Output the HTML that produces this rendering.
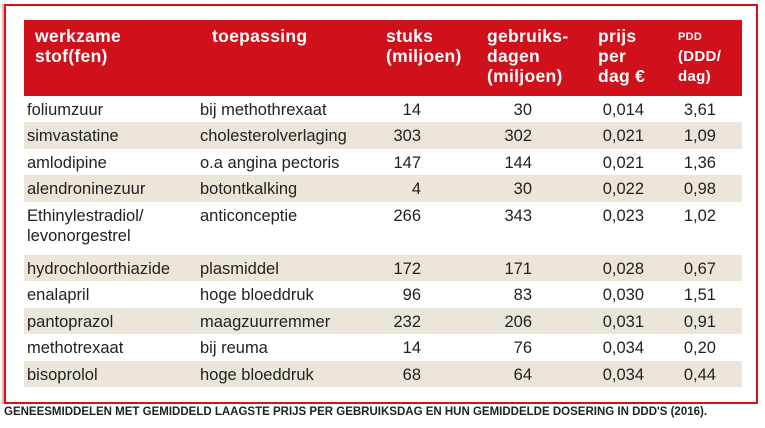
<!DOCTYPE html>
<html><head><meta charset="utf-8"><style>
body{margin:0;width:765px;height:428px;background:#fff;position:relative;overflow:hidden;font-family:"Liberation Sans",sans-serif;}
#frame{position:absolute;left:4px;top:4px;width:750px;height:396px;border:2px solid #d5121c;box-shadow:-2px 0 0 #f3b0b0;}
#head{position:absolute;left:24px;top:20px;width:718px;height:76px;background:#d0111b;color:#fff;font-weight:bold;font-size:17.5px;line-height:20px;}
#head div{position:absolute;top:6px;letter-spacing:0.3px;}
.row{position:absolute;left:24px;width:718px;height:26.4px;font-size:16.5px;color:#222;}
.row.b{background:#ece6da;}
.row span{position:absolute;top:4px;white-space:nowrap;}
.r{text-align:right;}
#cap{position:absolute;left:4px;top:406px;font-size:11.5px;font-weight:bold;color:#222;white-space:nowrap;}
</style></head><body>
<div id="frame"></div>
<div id="head">
<div style="left:11px">werkzame<br>stof(fen)</div>
<div style="left:188px">toepassing</div>
<div style="left:362px">stuks<br>(miljoen)</div>
<div style="left:463px">gebruiks-<br>dagen<br>(miljoen)</div>
<div style="left:574px">prijs<br>per<br>dag €</div>
<div style="left:654px;font-size:15px"><span style="font-size:11px">PDD</span><br>(DDD/<br>dag)</div>
</div>
<div id="rows"></div>
<div id="cap">GENEESMIDDELEN MET GEMIDDELD LAAGSTE PRIJS PER GEBRUIKSDAG EN HUN GEMIDDELDE DOSERING IN DDD'S (2016).</div>
<script>
const names=["foliumzuur","simvastatine","amlodipine","alendroninezuur","Ethinylestradiol/<br>levonorgestrel","hydrochloorthiazide","enalapril","pantoprazol","methotrexaat","bisoprolol"];
const uses=["bij methothrexaat","cholesterolverlaging","o.a angina pectoris","botontkalking","anticonceptie","plasmiddel","hoge bloeddruk","maagzuurremmer","bij reuma","hoge bloeddruk"];
const stuks=["14","303","147","4","266","172","96","232","14","68"];
const dagen=["30","302","144","30","343","171","83","206","76","64"];
const prijs=["0,014","0,021","0,021","0,022","0,023","0,028","0,030","0,031","0,034","0,034"];
const pdd=["3,61","1,09","1,36","0,98","1,02","0,67","1,51","0,91","0,20","0,44"];
const c=document.getElementById('rows');
let y=96;const h=26.45;
names.forEach((n,i)=>{
 const d=document.createElement('div');
 
 
 const hh=i===4?h*2:h;
 d.className='row'+(i%2?' b':'');
 d.style.top=y+'px';d.style.height=hh+'px';d.style.lineHeight='20px';
 d.innerHTML=`<span style="left:3px">${n}</span><span style="left:176px">${uses[i]}</span>`+
 `<span class="r" style="right:321px">${stuks[i]}</span><span class="r" style="right:210px">${dagen[i]}</span>`+
 `<span class="r" style="right:98px">${prijs[i]}</span><span class="r" style="right:26px">${pdd[i]}</span>`;
 c.appendChild(d);y+=hh;
});
</script>
</body></html>
